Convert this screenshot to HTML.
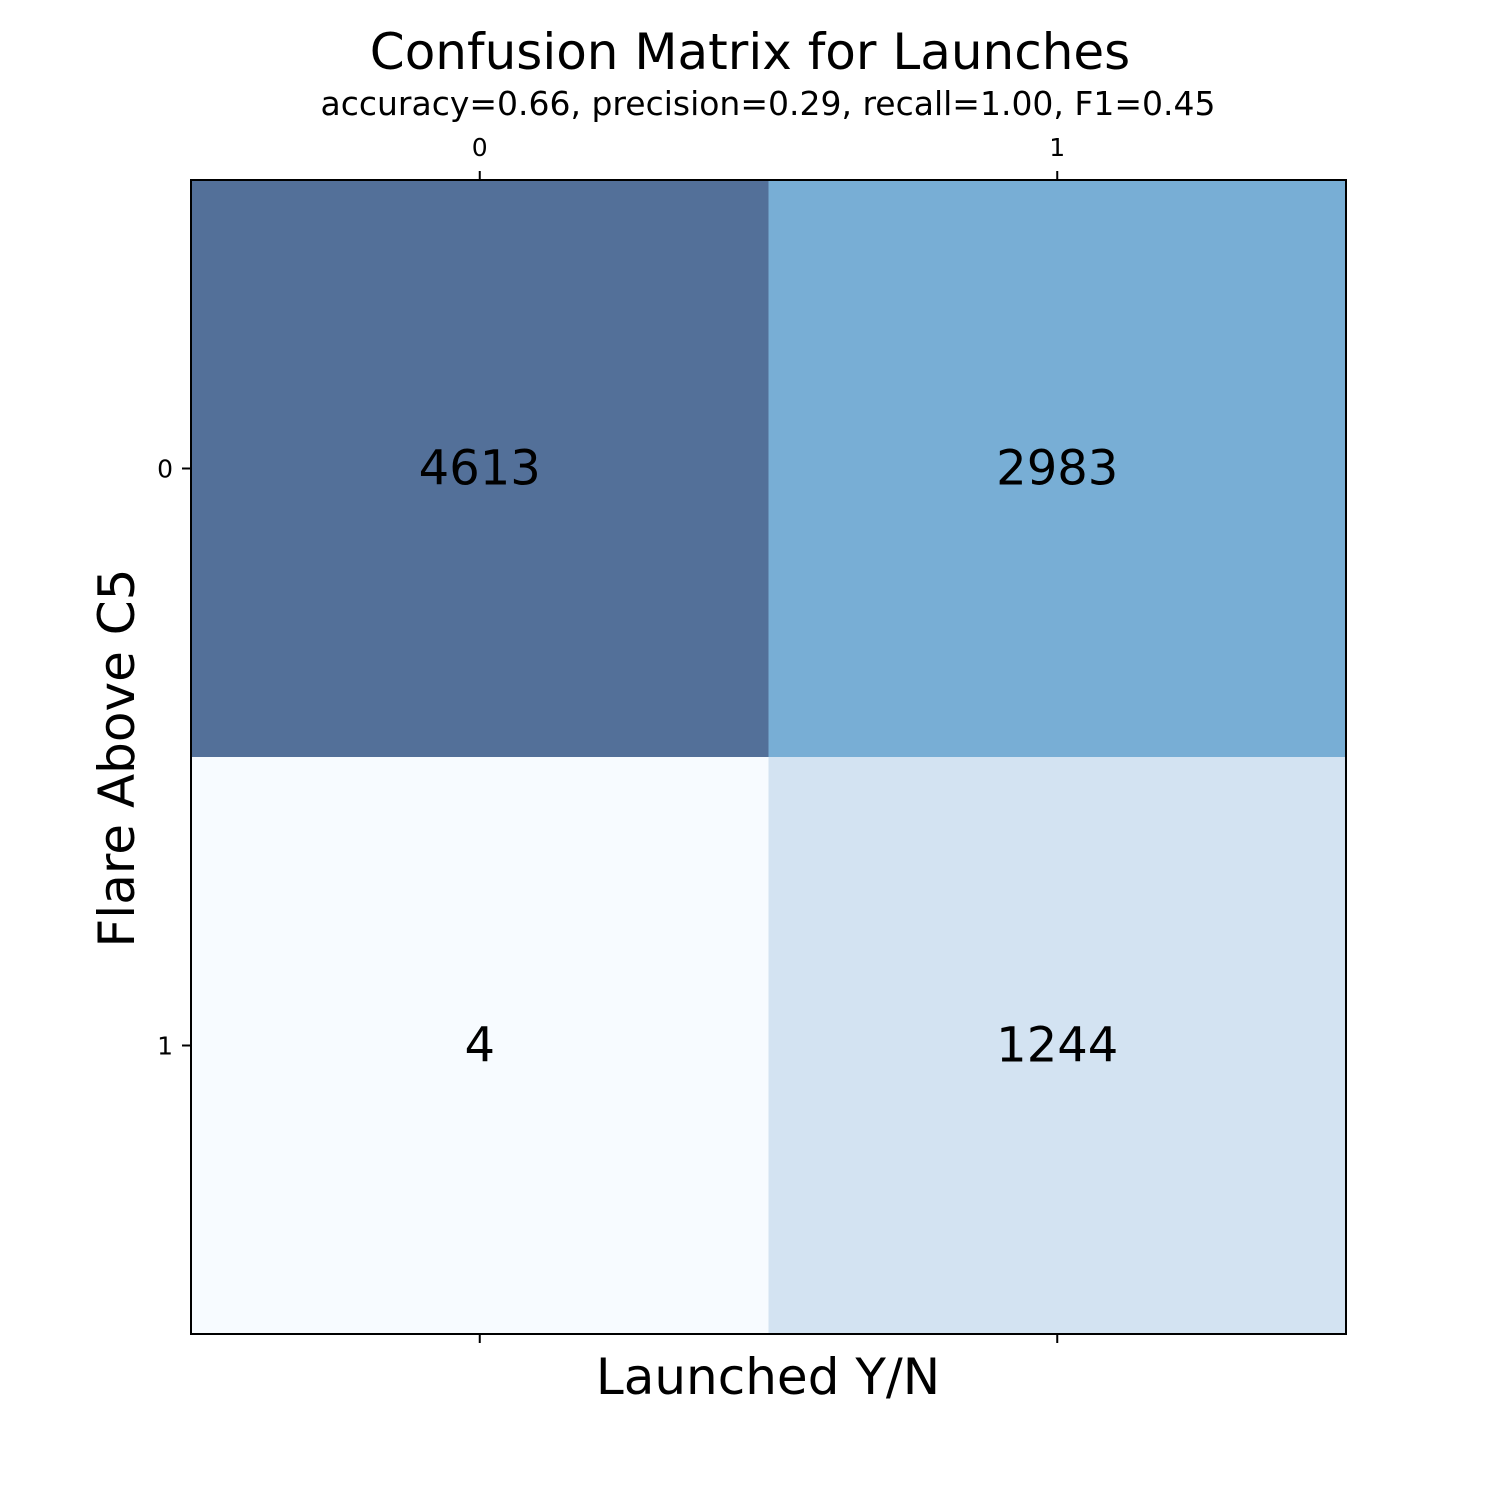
<!DOCTYPE html>
<html><head><meta charset="utf-8"><style>
html,body{margin:0;padding:0;background:#fff;}
svg{display:block;font-family:"DejaVu Sans","Liberation Sans",sans-serif;}
</style></head><body>
<svg id="chart" width="1500" height="1500" viewBox="0 0 1500 1500">
<rect width="1500" height="1500" fill="#fff"/>
<text x="750" y="69" font-size="50" text-anchor="middle">Confusion Matrix for Launches</text>
<text x="768" y="115" font-size="33" text-anchor="middle">accuracy=0.66, precision=0.29, recall=1.00, F1=0.45</text>
<g id="cells"></g>
<g id="ticks"></g>
<rect x="191" y="180" width="1155" height="1154" fill="none" stroke="#000" stroke-width="2"/>
<text x="768" y="1394" font-size="50" text-anchor="middle">Launched Y/N</text>
<text transform="translate(134,758) rotate(-90)" font-size="50" text-anchor="middle">Flare Above C5</text>
</svg>
<script>
const xCategories = ["0", "1"];
const yCategories = ["0", "1"];
const matrixValues = [[4613, 2983], [4, 1244]];

const NS = "http://www.w3.org/2000/svg";
const L = 191, T = 180, W = 1155, H = 1154;
const cw = W / xCategories.length, ch = H / yCategories.length;
function xPos(i){ return L + i * cw; }
function yPos(j){ return T + j * ch; }
const flat = matrixValues.flat();
const vmin = Math.min(...flat), vmax = Math.max(...flat);
const stops = [[0,[247,251,255]],[0.27,[211,227,242]],[0.647,[120,174,213]],[1,[83,112,153]]];
function color(v){
  const t = (v - vmin) / (vmax - vmin || 1);
  for (let k = 1; k < stops.length; k++) {
    if (t <= stops[k][0]) {
      const a = stops[k-1], b = stops[k], f = (t - a[0]) / (b[0] - a[0]);
      const c = a[1].map((x, i) => Math.round(x + (b[1][i] - x) * f));
      return `rgb(${c[0]},${c[1]},${c[2]})`;
    }
  }
  return "rgb(83,112,153)";
}
const cells = document.getElementById("cells");
const ticks = document.getElementById("ticks");
matrixValues.forEach((row, j) => row.forEach((v, i) => {
  const r = document.createElementNS(NS, "rect");
  r.setAttribute("x", xPos(i)); r.setAttribute("y", yPos(j));
  r.setAttribute("width", cw); r.setAttribute("height", ch);
  r.setAttribute("fill", color(v));
  
  
  cells.appendChild(r);
  const t = document.createElementNS(NS, "text");
  t.setAttribute("x", xPos(i) + cw / 2); t.setAttribute("y", yPos(j) + ch / 2 + 16);
  t.setAttribute("font-size", "48"); t.setAttribute("text-anchor", "middle");
  t.textContent = v;
  
  
  cells.appendChild(t);
}));
function line(x1,y1,x2,y2){
  const l = document.createElementNS(NS, "line");
  l.setAttribute("x1",x1); l.setAttribute("y1",y1); l.setAttribute("x2",x2); l.setAttribute("y2",y2);
  l.setAttribute("stroke","#000"); l.setAttribute("stroke-width","2");
  return l;
}
xCategories.forEach((c, i) => {
  const cx = xPos(i) + cw / 2;
  const a = line(cx, T - 9, cx, T);
  
  
  ticks.appendChild(a);
  const b = line(cx, T + H, cx, T + H + 9);
  
  
  ticks.appendChild(b);
  const t = document.createElementNS(NS, "text");
  t.setAttribute("x", cx); t.setAttribute("y", 156);
  t.setAttribute("font-size", "25"); t.setAttribute("text-anchor", "middle");
  t.textContent = c;
  
  
  ticks.appendChild(t);
});
yCategories.forEach((c, j) => {
  const cy = yPos(j) + ch / 2;
  const a = line(L - 9, cy, L, cy);
  
  
  ticks.appendChild(a);
  const t = document.createElementNS(NS, "text");
  t.setAttribute("x", 173); t.setAttribute("y", cy + 9);
  t.setAttribute("font-size", "25"); t.setAttribute("text-anchor", "end");
  t.textContent = c;
  
  
  ticks.appendChild(t);
});
</script>
</body></html>
